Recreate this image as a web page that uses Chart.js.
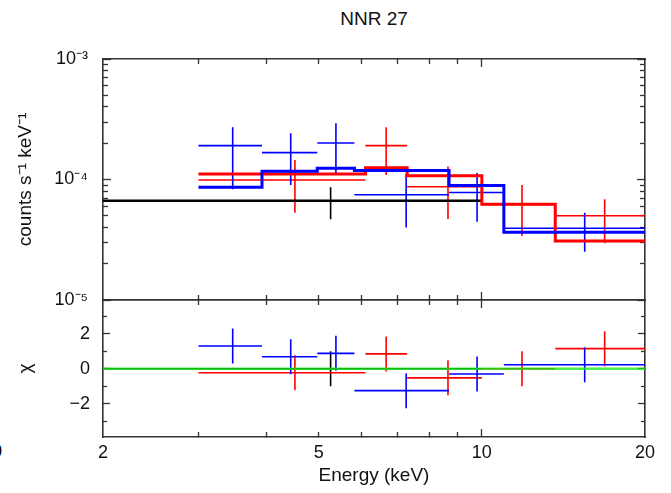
<!DOCTYPE html>
<html>
<head>
<meta charset="utf-8">
<script src="https://cdn.jsdelivr.net/npm/chart.js@4.4.1/dist/chart.umd.min.js"></script>
<style>
  body { margin: 0; background: #fff; }
  #wrap { position: relative; width: 671px; height: 493px; overflow: hidden; background: #fff; }
  #wrap div { position: absolute; }
  .txt { font-family: "Liberation Sans", Arial, sans-serif; color: #111; }
</style>
</head>
<body>
<div id="wrap">
  <div class="txt" style="left:0;width:748px;top:8px;font-size:19px;text-align:center;">NNR 27</div>
  <div class="txt" style="left:-8px;top:441px;font-size:18px;color:#000;">0</div>
  <div style="left:0;top:0;width:671px;height:310px;"><canvas id="spec" width="671" height="310"></canvas></div>
  <div style="left:0;top:290px;width:671px;height:203px;"><canvas id="resid" width="671" height="203"></canvas></div>
</div>
<script>
// energy bins (keV), model and data
var blackEdges = [2.0, 10.0];
var blackModel = [6.67e-5];
var blackX = [5.26];
var blackRate = [6.67e-5];
var blackLo = [4.68e-5];
var blackHi = [8.63e-5];
var blackChi = [0.0];

var redEdges = [3.0, 6.1, 7.28, 10.0, 13.66, 20.0];
var redModel = [1.11e-4, 1.25e-4, 1.075e-4, 6.22e-5, 3.09e-5];
var redX = [4.52, 6.66, 8.66, 11.86, 16.85];
var redRate = [9.9e-5, 1.91e-4, 8.7e-5, 6.22e-5, 5.0e-5];
var redLo = [5.3e-5, 1.09e-4, 4.7e-5, 3.4e-5, 2.96e-5];
var redHi = [1.45e-4, 2.71e-4, 1.28e-4, 9.0e-5, 6.85e-5];
var redChi = [-0.23, 0.85, -0.52, 0.0, 1.15];

var blueEdges = [3.0, 3.93, 4.97, 5.82, 8.7, 10.98, 20.0];
var blueModel = [8.62e-5, 1.17e-4, 1.24e-4, 1.19e-4, 8.9e-5, 3.65e-5];
var blueX = [3.47, 4.44, 5.38, 7.25, 9.8, 15.48];
var blueRate = [1.91e-4, 1.67e-4, 2.01e-4, 7.48e-5, 7.8e-5, 3.94e-5];
var blueLo = [8.3e-5, 9.0e-5, 1.10e-4, 4.0e-5, 4.46e-5, 2.51e-5];
var blueHi = [2.71e-4, 2.42e-4, 2.93e-4, 1.11e-4, 1.13e-4, 5.3e-5];
var blueChi = [1.3, 0.69, 0.88, -1.25, -0.3, 0.23];

var chiErr = 1; // residuals are in units of sigma

var energyLabels = [2, 5, 10, 20];
var energyMinor = [3, 4, 5, 6, 7, 8, 9];
var energyMajor = [10];
var rateLabels = [1e-5, 1e-4, 1e-3];
var rateMinor = [2e-5, 3e-5, 4e-5, 5e-5, 6e-5, 7e-5, 8e-5, 9e-5,
                 2e-4, 3e-4, 4e-4, 5e-4, 6e-4, 7e-4, 8e-4, 9e-4];
var chiLabels = [-2, 0, 2];
var chiMinor = [-3, -1, 1, 3];

var font = '"Liberation Sans", Arial, sans-serif';
var ink = '#333';

function steps(edges, vals) {
  var pts = [];
  for (var i = 0; i < vals.length; i++) pts.push({x: edges[i], y: vals[i]});
  pts.push({x: edges[edges.length - 1], y: vals[vals.length - 1]});
  return pts;
}

function crosses(edges, xs, ys, lo, hi) {
  var pts = [];
  for (var i = 0; i < xs.length; i++) {
    pts.push({x: edges[i], y: ys[i]}, {x: edges[i + 1], y: ys[i]}, {x: xs[i], y: null});
    pts.push({x: xs[i], y: lo[i]}, {x: xs[i], y: hi[i]}, {x: xs[i], y: null});
  }
  return pts;
}

function chiCrosses(edges, xs, chi) {
  var lo = chi.map(function(c) { return c - chiErr; });
  var hi = chi.map(function(c) { return c + chiErr; });
  return crosses(edges, xs, chi, lo, hi);
}

function line(data, color, width, stepped) {
  return {
    data: data, borderColor: color, borderWidth: width, pointRadius: 0,
    fill: false, spanGaps: false, tension: 0, stepped: stepped || false
  };
}

function flat(s, size) {
  if (s.isHorizontal()) s.height = size; else s.width = size;
  s.paddingLeft = s.paddingRight = s.paddingTop = s.paddingBottom = 0;
}

function tickAxis(type, position, min, max, values, len, border) {
  return {
    type: type, position: position, min: min, max: max, weight: 0, display: true,
    afterBuildTicks: function(s) { s.ticks = values.map(function(v) { return {value: v}; }); },
    afterFit: function(s) { flat(s, 0); },
    ticks: {display: false},
    grid: {display: true, drawOnChartArea: false, drawTicks: true, tickLength: -len, tickColor: ink, tickWidth: 1.3},
    border: {display: border, color: ink, width: 1.6}
  };
}

function labelAxis(type, position, min, max, values, fmt, pad, title, titlePad, size) {
  return {
    type: type, position: position, min: min, max: max, weight: 1, display: true,
    afterBuildTicks: function(s) { s.ticks = values.map(function(v) { return {value: v}; }); },
    afterFit: function(s) { flat(s, size); },
    grid: {display: false, drawTicks: false, drawOnChartArea: false},
    border: {display: false},
    ticks: {display: true, autoSkip: false, maxRotation: 0, padding: pad, color: '#111',
            font: {family: font, size: 18}, callback: fmt},
    title: {display: true, text: title, color: '#111', font: {family: font, size: 19}, padding: titlePad}
  };
}

var sup = {'-3': '\u207B\u00B3', '-4': '\u207B\u2074', '-5': '\u207B\u2075'};
function powLabel(v) { return '10' + sup[String(Math.round(Math.log10(v)))]; }
function chiLabel(v) { return v < 0 ? '\u2212' + Math.abs(v) : String(v); }

var common = {
  responsive: false, animation: false, devicePixelRatio: 1,
  plugins: {legend: {display: false}, tooltip: {enabled: false}}
};

new Chart(document.getElementById('spec').getContext('2d'), {
  type: 'line',
  data: {
    datasets: [
      line(steps(blueEdges, blueModel), '#0000ff', 3, true),
      line(steps(redEdges, redModel), '#ff0000', 3, true),
      line(steps(blackEdges, blackModel), '#000000', 2.5, true),
      line(crosses(blueEdges, blueX, blueRate, blueLo, blueHi), '#0000ff', 1.6),
      line(crosses(redEdges, redX, redRate, redLo, redHi), '#ff0000', 1.6),
      line(crosses(blackEdges, blackX, blackRate, blackLo, blackHi), '#000000', 1.6)
    ]
  },
  options: Object.assign({}, common, {
    layout: {padding: {left: 0, right: 26, top: 59, bottom: 10}, autoPadding: false},
    scales: {
      y: labelAxis('logarithmic', 'left', 1e-5, 1e-3, rateLabels, powLabel, 15,
                   'counts s\u207B\u00B9 keV\u207B\u00B9', {top: 14}, 103),
      yMaj: tickAxis('logarithmic', 'left', 1e-5, 1e-3, rateLabels, 8, true),
      yMin: tickAxis('logarithmic', 'left', 1e-5, 1e-3, rateMinor, 5, false),
      yrMaj: tickAxis('logarithmic', 'right', 1e-5, 1e-3, rateLabels, 8, true),
      yrMin: tickAxis('logarithmic', 'right', 1e-5, 1e-3, rateMinor, 5, false),
      x: tickAxis('logarithmic', 'bottom', 2, 20, energyMinor, 5, true),
      xMaj: tickAxis('logarithmic', 'bottom', 2, 20, energyMajor, 8, false),
      xt: tickAxis('logarithmic', 'top', 2, 20, energyMinor, 5, true),
      xtMaj: tickAxis('logarithmic', 'top', 2, 20, energyMajor, 8, false)
    }
  })
});

new Chart(document.getElementById('resid').getContext('2d'), {
  type: 'line',
  data: {
    datasets: [
      line([{x: 2, y: 0}, {x: 20, y: 0}], 'rgba(20,235,20,0.78)', 2.5),
      line(chiCrosses(blueEdges, blueX, blueChi), '#0000ff', 1.6),
      line(chiCrosses(redEdges, redX, redChi), '#ff0000', 1.6),
      line(chiCrosses(blackEdges, blackX, blackChi), '#000000', 1.6)
    ]
  },
  options: Object.assign({}, common, {
    layout: {padding: {left: 0, right: 26, top: 10, bottom: 0}, autoPadding: false},
    scales: {
      x: labelAxis('logarithmic', 'bottom', 2, 20, energyLabels, function(v) { return String(v); }, 5,
                   'Energy (keV)', {bottom: 5.5}, 56),
      xMin: tickAxis('logarithmic', 'bottom', 2, 20, energyMinor, 5, true),
      xMaj: tickAxis('logarithmic', 'bottom', 2, 20, energyMajor, 8, false),
      xt: tickAxis('logarithmic', 'top', 2, 20, energyMinor, 5, true),
      xtMaj: tickAxis('logarithmic', 'top', 2, 20, energyMajor, 8, false),
      y: labelAxis('linear', 'left', -3.9, 3.93, chiLabels, chiLabel, 13, '\u03C7', {top: 14}, 103),
      yMaj: tickAxis('linear', 'left', -3.9, 3.93, chiLabels, 7, true),
      yMin: tickAxis('linear', 'left', -3.9, 3.93, chiMinor, 4, false),
      yrMaj: tickAxis('linear', 'right', -3.9, 3.93, chiLabels, 7, true),
      yrMin: tickAxis('linear', 'right', -3.9, 3.93, chiMinor, 4, false)
    }
  })
});
</script>
</body>
</html>
